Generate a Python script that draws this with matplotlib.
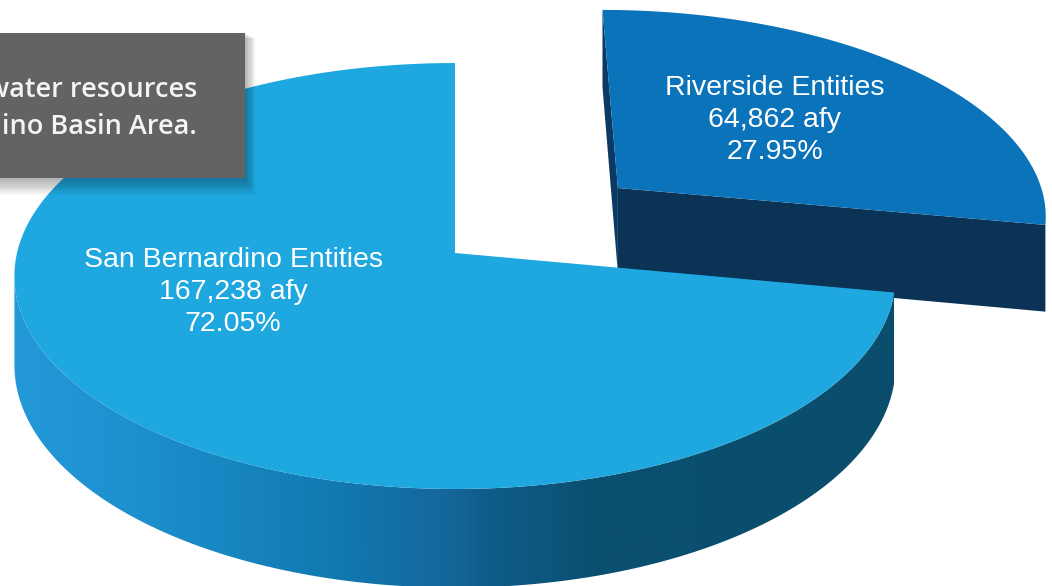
import numpy as np
import matplotlib.pyplot as plt
from matplotlib.patches import Polygon, Rectangle
from matplotlib.colors import LinearSegmentedColormap

# data
entities = ['San Bernardino Entities', 'Riverside Entities']
supply_afy = [167238, 64862]
explode = [0.0, 0.5]
top_colors = ['#1ea8df', '#0a73b9']
cut_colors = ['#1b95d2', '#0b3356']
box_lines = ['water resources', 'ino Basin Area.']

# 3d look of the pie (pixel space)
CX, CY = 455, 253
A, B, P = 438, 210.5, 0.108
H = 88


def proj(x, d, z=0.0):
    s = 1 + P * d
    return CX + A * x / s, CY - B * d / s + H * z / s


def rim(t0, t1, ox, oy, z=0.0, n=300):
    t = np.radians(np.linspace(t0, t1, n))
    return proj(np.cos(t) + ox, np.sin(t) + oy, z)


fig = plt.figure(figsize=(10.52, 5.86), dpi=100)
ax = fig.add_axes([0, 0, 1, 1])

shares = np.array(supply_afy) / np.sum(supply_afy)
# riverside goes clockwise from 12 o'clock, san bernardino takes the rest
r_start = 90 - 360 * shares[1]
spans = [(90, r_start + 360), (r_start, 90)]

# riverside slice (behind)
t0, t1 = spans[1]
mid = np.radians((t0 + t1) / 2)
ox, oy = explode[1] * np.cos(mid), explode[1] * np.sin(mid)
vx, vy = proj(ox, oy)
vxb, vyb = proj(ox, oy, 1)
# face along 12 o'clock edge
tx, ty = proj(ox, 1 + oy)
txb, tyb = proj(ox, 1 + oy, 1)
ax.add_patch(Polygon([[vx, vy], [tx, ty], [txb, tyb], [vxb, vyb]],
                     closed=True, fc='#0a3a63', ec='none', zorder=1))
# face along the other cut edge
ex, ey = proj(np.cos(np.radians(t0)) + ox, np.sin(np.radians(t0)) + oy)
exb, eyb = proj(np.cos(np.radians(t0)) + ox, np.sin(np.radians(t0)) + oy, 1)
ax.add_patch(Polygon([[vx, vy], [ex, ey], [exb, eyb], [vxb, vyb]],
                     closed=True, fc=cut_colors[1], ec='none', zorder=2))
rx, ry = rim(t0, t1, ox, oy)
ax.add_patch(Polygon(np.column_stack([np.r_[vx, rx], np.r_[vy, ry]]),
                     closed=True, fc=top_colors[1], ec='none', zorder=3))

# san bernardino slice (front)
t0, t1 = spans[0]
sil = 180 + np.degrees(np.arcsin(P))
wx, wy = rim(sil, t1, 0, 0)
wxb, wyb = rim(sil, t1, 0, 0, 1)
wall = Polygon(np.column_stack([np.r_[wx, wxb[::-1]], np.r_[wy, wyb[::-1]]]),
               closed=True, fc='none', ec='none')
ax.add_patch(wall)
wall_cmap = LinearSegmentedColormap.from_list('wall', [
    (0.00, '#2499d8'), (0.15, '#1d8fcd'), (0.35, '#117bb3'),
    (0.50, '#15669a'), (0.53, '#0f5d8b'), (0.66, '#0a5071'),
    (1.00, '#0a4d6c')])
grad = np.linspace(0, 1, 512).reshape(1, -1)
im = ax.imshow(grad, cmap=wall_cmap, aspect='auto', zorder=4,
               extent=[wx.min(), wx.max(), wyb.max() + 5, wy.min() - 5])
im.set_clip_path(wall)

bx, by = rim(t0, t1, 0, 0)
ax.add_patch(Polygon(np.column_stack([np.r_[CX, bx], np.r_[CY, by]]),
                     closed=True, fc=top_colors[0], ec='none', zorder=5))

# labels
label_pos = [(233, 292), (775, 120)]
for name, afy, sh, (lx, ly) in zip(entities, supply_afy, shares, label_pos):
    ax.text(lx, ly, f'{name}\n{afy:,} afy\n{sh * 100:.2f}%', color='white',
            fontsize=20.5, family='Liberation Sans', ha='center', va='center',
            linespacing=1.28, zorder=6)

# grey note box with soft shadow
for i in range(10):
    ax.add_patch(Rectangle((0, 33 + i * 0.6), 245 + i * 1.1, 145 + i * 1.3,
                           fc='black', ec='none', alpha=0.035, zorder=7))
ax.add_patch(Rectangle((0, 33), 245, 145, fc='#636363', ec='none', zorder=8))
for k, line in enumerate(box_lines):
    ax.text(197, 90 + k * 37, line, color='#f4f4f4', fontsize=19.5,
            family='Open Sans', weight='semibold', ha='right', va='center',
            zorder=9)

ax.set_xlim(0, 1052)
ax.set_ylim(586, 0)
ax.axis('off')
fig.savefig('out.png', dpi=100, facecolor='white')
